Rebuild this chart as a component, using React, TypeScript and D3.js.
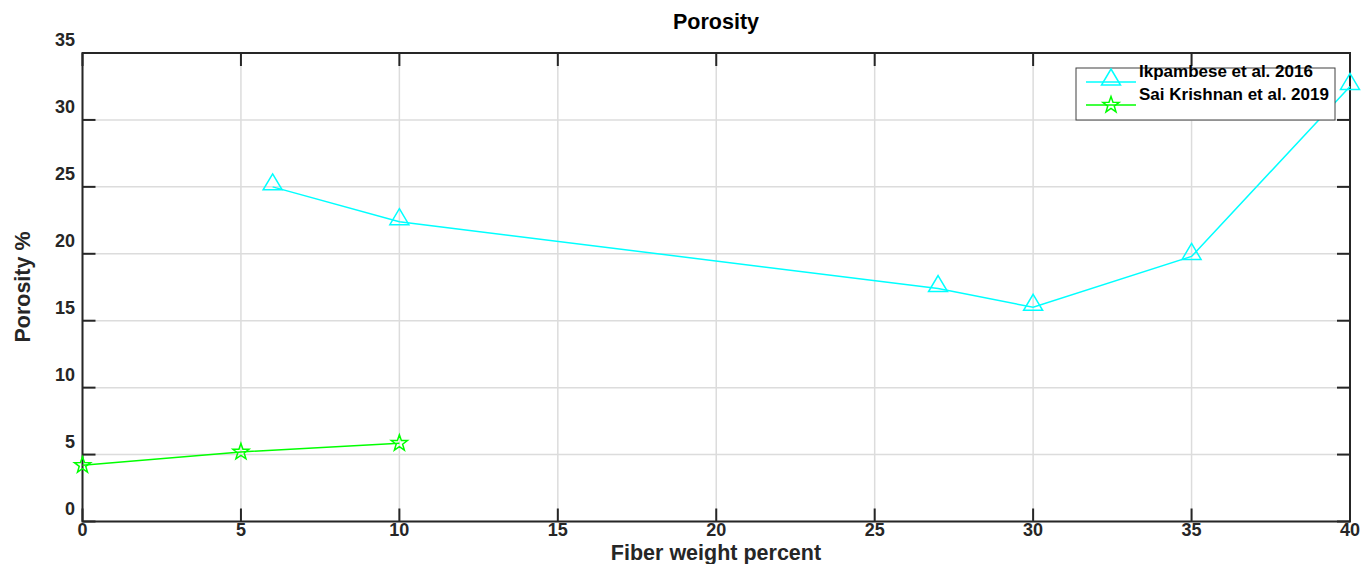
import React from "react";
import * as d3 from "d3";

const ikX = [6, 10, 27, 30, 35, 40];
const ikY = [25, 22.4, 17.4, 16.0, 19.8, 32.5];
const saiX = [0, 5, 10];
const saiY = [4.2, 5.2, 5.85];
const xTicks = [0, 5, 10, 15, 20, 25, 30, 35, 40];
const yTicks = [0, 5, 10, 15, 20, 25, 30, 35];
const seriesNames = ["Ikpambese et al. 2016", "Sai Krishnan et al. 2019"];

const W = 1372, H = 564;
const L = 82.5, R = 1350, T = 53, B = 521.5;
const FONT = "'Liberation Sans', Arial, sans-serif";
const AX = "#262626";

function starPath(cx: number, cy: number, r: number) {
  const pts: string[] = [];
  const ri = r * 0.4;
  for (let i = 0; i < 10; i++) {
    const a = -Math.PI / 2 + (i * Math.PI) / 5;
    const rr = i % 2 === 0 ? r : ri;
    pts.push(`${cx + rr * Math.cos(a)},${cy + rr * Math.sin(a)}`);
  }
  return "M" + pts.join("L") + "Z";
}
function triPath(cx: number, cy: number, r: number) {
  return `M${cx},${cy - r}L${cx + r * 0.95},${cy + r * 0.6}L${cx - r * 0.95},${cy + r * 0.6}Z`;
}

export default function App() {
  const x = d3.scaleLinear().domain([0, 40]).range([L, R]);
  const y = d3.scaleLinear().domain([0, 35]).range([B, T]);
  const line = d3.line<[number, number]>().x((d) => x(d[0])).y((d) => y(d[1]));
  const ik = ikX.map((v, i) => [v, ikY[i]] as [number, number]);
  const sai = saiX.map((v, i) => [v, saiY[i]] as [number, number]);
  const tl = 13;
  return (
    <svg width={W} height={H} style={{ position: "absolute", left: 0, top: 0, background: "#fff" }}>
      {xTicks.map((t) => (
        <line key={"gx" + t} x1={x(t)} x2={x(t)} y1={T} y2={B} stroke="#dcdcdc" strokeWidth={1.5} />
      ))}
      {yTicks.map((t) => (
        <line key={"gy" + t} x1={L} x2={R} y1={y(t)} y2={y(t)} stroke="#dcdcdc" strokeWidth={1.5} />
      ))}
      {xTicks.map((t) => (
        <g key={"tx" + t}>
          <line x1={x(t)} x2={x(t)} y1={B} y2={B - tl} stroke={AX} strokeWidth={2} />
          <line x1={x(t)} x2={x(t)} y1={T} y2={T + tl} stroke={AX} strokeWidth={2} />
          <text x={x(t)} y={B + 14} textAnchor="middle" fontFamily={FONT} fontWeight="bold" fontSize={18} fill={AX}>{t}</text>
        </g>
      ))}
      {yTicks.map((t) => (
        <g key={"ty" + t}>
          <line x1={L} x2={L + tl} y1={y(t)} y2={y(t)} stroke={AX} strokeWidth={2} />
          <line x1={R} x2={R - tl} y1={y(t)} y2={y(t)} stroke={AX} strokeWidth={2} />
          <text x={75} y={y(t) - 7} textAnchor="end" fontFamily={FONT} fontWeight="bold" fontSize={18} fill={AX}>{t}</text>
        </g>
      ))}
      <rect x={L} y={T} width={R - L} height={B - T} fill="none" stroke={AX} strokeWidth={2} />
      <path d={line(ik) || ""} fill="none" stroke="#00ffff" strokeWidth={1.5} />
      {ik.map((d, i) => (
        <path key={"ik" + i} d={triPath(x(d[0]), y(d[1]) - 3, 10)} fill="none" stroke="#00ffff" strokeWidth={1.5} />
      ))}
      <path d={line(sai) || ""} fill="none" stroke="#00ff00" strokeWidth={1.5} />
      {sai.map((d, i) => (
        <path key={"sai" + i} d={starPath(x(d[0]), y(d[1]), 8.5)} fill="none" stroke="#00ff00" strokeWidth={1.5} />
      ))}
      <g>
        <rect x={1076} y={68} width={259} height={52} fill="#fff" stroke="#404040" strokeWidth={1} />
        <line x1={1086} x2={1136} y1={82} y2={82} stroke="#00ffff" strokeWidth={1.5} />
        <path d={triPath(1111, 82 - 3, 10)} fill="none" stroke="#00ffff" strokeWidth={1.5} />
        <text x={1139} y={77} fontFamily={FONT} fontWeight="bold" fontSize={17} fill="#000">{seriesNames[0]}</text>
        <line x1={1086} x2={1136} y1={105} y2={105} stroke="#00ff00" strokeWidth={1.5} />
        <path d={starPath(1111, 105, 8.5)} fill="none" stroke="#00ff00" strokeWidth={1.5} />
        <text x={1139} y={100} fontFamily={FONT} fontWeight="bold" fontSize={17} fill="#000">{seriesNames[1]}</text>
      </g>
      <text x={716} y={29} textAnchor="middle" fontFamily={FONT} fontWeight="bold" fontSize={21.5} fill="#000">Porosity</text>
      <text x={716} y={560} textAnchor="middle" fontFamily={FONT} fontWeight="bold" fontSize={21.5} fill={AX}>Fiber weight percent</text>
      <text transform={`translate(30,${287}) rotate(-90)`} textAnchor="middle" fontFamily={FONT} fontWeight="bold" fontSize={21.5} fill={AX}>Porosity %</text>
    </svg>
  );
}
